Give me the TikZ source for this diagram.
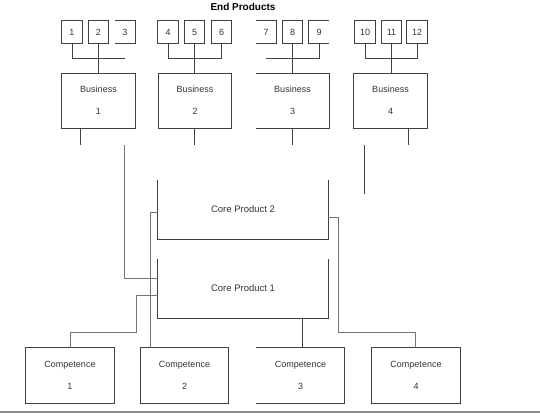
\documentclass[tikz,border=0pt]{standalone}
\usepackage{fontspec}
\setmainfont{Liberation Sans}
\begin{document}
\begin{tikzpicture}[x=1pt,y=-1pt,
  ln/.style={draw=black!75,line width=0.9pt},
  lnl/.style={draw=black!55,line width=0.9pt},
  sbox/.style={minimum width=20pt,minimum height=22pt,inner sep=0pt,font=\fontsize{9}{10}\selectfont,text=black!80},
  bbox/.style={minimum width=73pt,minimum height=54pt,inner sep=0pt},
  cbox/.style={minimum width=170pt,minimum height=59pt,inner sep=0pt,font=\fontsize{9.5}{11}\selectfont,text=black!80},
  kbox/.style={minimum width=88pt,minimum height=55pt,inner sep=0pt},
  lbl/.style={font=\fontsize{9}{10}\selectfont,text=black!80,inner sep=0pt}
]
\useasboundingbox (0,0) rectangle (540,415);
\node[font=\bfseries\fontsize{10}{12}\selectfont,inner sep=0pt] (title) at (243,7) {End Products};
% small boxes
\node[sbox] (p1) at (72,32) {1};
\node[sbox] (p2) at (98.5,32) {2};
\node[sbox] (p3) at (125,32) {3};
\node[sbox] (p4) at (168,32) {4};
\node[sbox] (p5) at (194.5,32) {5};
\node[sbox] (p6) at (221.5,32) {6};
\node[sbox] (p7) at (266,32) {7};
\node[sbox] (p8) at (292.5,32) {8};
\node[sbox] (p9) at (319,32) {9};
\node[sbox] (p10) at (365,32) {10};
\node[sbox] (p11) at (391.5,32) {11};
\node[sbox] (p12) at (417,32) {12};
\foreach \n in {p1,p2,p4,p5,p6,p8,p10,p11,p12}{\draw[ln] (\n.north west) rectangle (\n.south east);}
\draw[ln] (p3.north west) -- (p3.north east) -- (p3.south east) -- (p3.south west);
\draw[ln] (p7.north west) -- (p7.north east) -- (p7.south east) -- (p7.south west);
\draw[ln] (p9.north east) -- (p9.north west) -- (p9.south west) -- (p9.south east);
% business boxes
\node[bbox] (b1) at (98.5,101) {};
\node[bbox] (b2) at (195,101) {};
\node[bbox] (b3) at (292.5,101) {};
\node[bbox] (b4) at (390.5,101) {};
\foreach \n/\t in {b1/1,b2/2,b3/3,b4/4}{
  \node[lbl] (\n t) at ([yshift=-15pt]\n.north) {Business};
  \node[lbl] (\n n) at ([yshift=-10pt]\n.center) {\t};
}
\draw[ln] (b1.north west) rectangle (b1.south east);
\draw[ln] (b2.north west) rectangle (b2.south east);
\draw[ln] (b3.north west) -- (b3.north east) -- (b3.south east) -- (b3.south west);
\draw[ln] (b4.north west) rectangle (b4.south east);
% connectors top
\coordinate (h1) at (0,58);
\draw[ln] (p1.south) -- (p1.south |- h1) -- (p3.south |- h1);
\draw[ln] (p2.south) -- (b1.north -| p2.south);
\draw[ln] (p4.south) -- (p4.south |- h1) -- (p6.south |- h1) -- (p6.south);
\draw[ln] (p5.south) -- (b2.north -| p5.south);
\draw[ln] (p7.south |- h1) -- (p9.south |- h1) -- (p9.south);
\draw[ln] (p8.south) -- (b3.north -| p8.south);
\draw[ln] (p10.south) -- (p10.south |- h1) -- (p12.south |- h1) -- (p12.south);
\draw[ln] (p11.south) -- (b4.north -| p11.south);
% stubs
\coordinate (s1) at (80,145);
\coordinate (s2) at (194,145);
\coordinate (s3) at (292,145);
\coordinate (s4) at (408,145);
\draw[ln] (b1.south -| s1) -- (s1);
\draw[ln] (b2.south -| s2) -- (s2);
\draw[ln] (b3.south -| s3) -- (s3);
\draw[ln] (b4.south -| s4) -- (s4);
\coordinate (f1) at (364,145);
\coordinate (f2) at (364,194);
\draw[ln] (f1) -- (f2);
% core products
\node[cbox] (cp2) at (243,209.5) {Core Product 2};
\node[cbox] (cp1) at (243,288.5) {Core Product 1};
\draw[ln] (cp2.north west) -- (cp2.south west) -- (cp2.south east) -- (cp2.north east);
\draw[ln] (cp1.north west) -- (cp1.south west) -- (cp1.south east) -- (cp1.north east);
% competences
\node[kbox] (k1) at (70,375.5) {};
\node[kbox] (k2) at (184.5,375.5) {};
\node[kbox] (k3) at (300.5,375.5) {};
\node[kbox] (k4) at (416,375.5) {};
\foreach \n/\t in {k1/1,k2/2,k3/3,k4/4}{
  \node[lbl] (\n t) at ([yshift=-17pt]\n.north) {Competence};
  \node[lbl] (\n n) at ([yshift=-11pt]\n.center) {\t};
}
\draw[ln] (k1.north west) rectangle (k1.south east);
\draw[ln] (k2.north west) rectangle (k2.south east);
\draw[ln] (k3.south west) -- (k3.south east) -- (k3.north east) -- (k3.north west);
\draw[ln] (k4.north west) rectangle (k4.south east);
% connectors middle
\coordinate (v1) at (124,145);
\draw[lnl] (v1) -- (124,278) -- (cp1.west |- 0,278);
\draw[lnl] (cp2.west |- 0,212) -- (150,212) -- (k2.north -| 150,0);
\draw[lnl] (cp1.west |- 0,295) -- (136,295) -- (136,332.7) -- (70,332.7) -- (k1.north);
\draw[ln] (cp1.south -| 302.3,0) -- (k3.north -| 302.3,0);
\draw[lnl] (cp2.east |- 0,217.7) -- (338.3,217.7) -- (338.3,332.7) -- (415.3,332.7) -- (k4.north -| 415.3,0);
% bottom rule
\draw[draw=black!45,line width=2pt] (0,412) -- (540,412);
\end{tikzpicture}
\end{document}
